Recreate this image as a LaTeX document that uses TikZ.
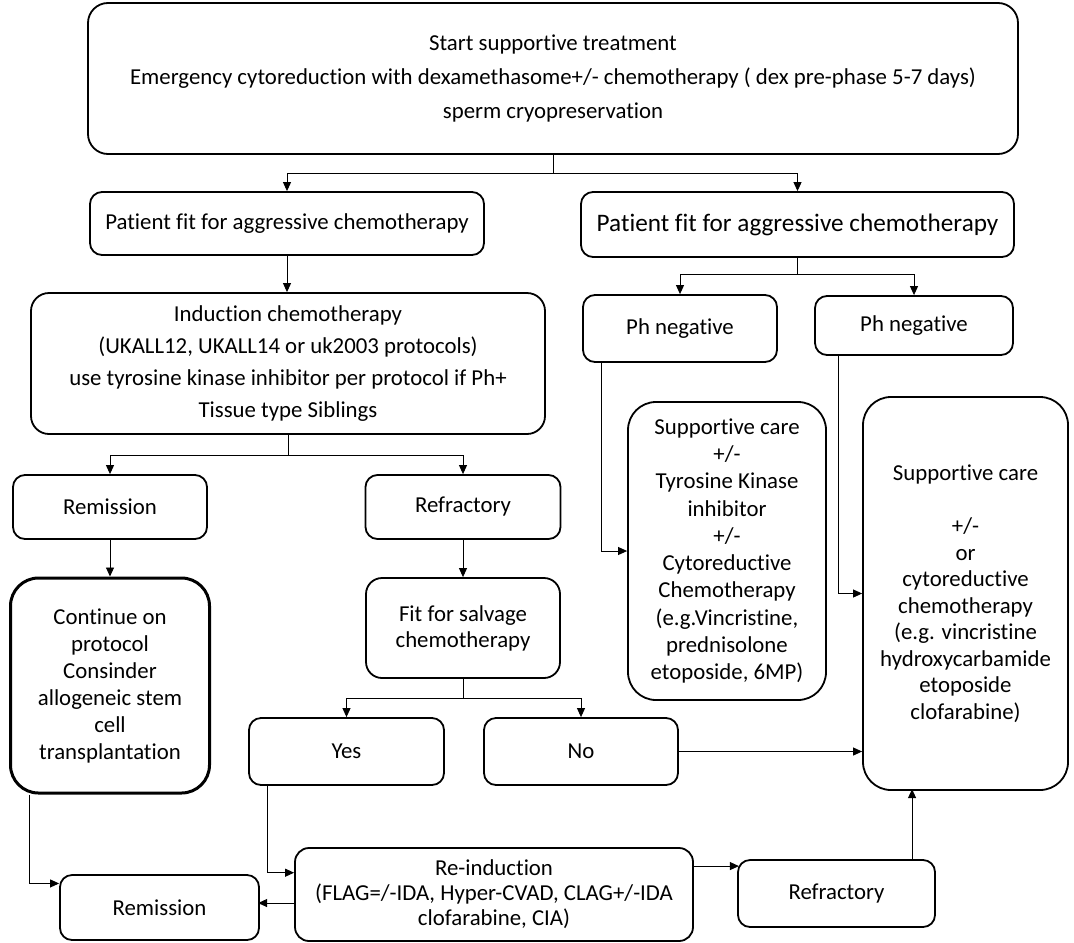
\documentclass[tikz,border=0pt]{standalone}
\usepackage{fontspec}
\setmainfont{Carlito}[Ligatures=NoCommon]
\usepackage{tikz}
\usetikzlibrary{arrows.meta, calc}

\begin{document}
\begin{tikzpicture}[
  x=0.5pt, y=-0.5pt,
  font=\fontsize{11.4}{13.5}\selectfont,
  box/.style={draw, line width=0.9pt, rounded corners=6pt, align=center, inner sep=0pt},
  bigbox/.style={box, rounded corners=14pt},
  conn/.style={draw, line width=0.45pt, -{Triangle[length=4.5pt, width=4pt]}}
]
\useasboundingbox (0,0) rectangle (1074,942);

% top box
\node[box, rounded corners=10pt, minimum width=465pt, minimum height=75.5pt,
  font=\fontsize{11.4}{17}\selectfont] (top) at (553,78.5)
  {Start supportive treatment\\Emergency cytoreduction with dexamethasome+/- chemotherapy ( dex pre-phase 5-7 days)\\sperm cryopreservation};

% second row
\node[box, minimum width=197pt, minimum height=31.5pt] (fitL) at (287,223.5) {Patient fit for aggressive chemotherapy};
\node[box, minimum width=216.5pt, minimum height=32.5pt, font=\fontsize{12.6}{15}\selectfont] (fitR) at (797.5,224.5) {Patient fit for aggressive chemotherapy};

% left branch
\node[box, rounded corners=9pt, minimum width=257pt, minimum height=70.5pt,
  font=\fontsize{11.4}{16}\selectfont] (induc) at (288,363.5)
  {Induction chemotherapy\\(UKALL12, UKALL14 or uk2003 protocols)\\use tyrosine kinase inhibitor per protocol if Ph+\\Tissue type Siblings};
\node[box, minimum width=97pt, minimum height=32pt] (remA) at (110,507) {Remission};
\node[box, minimum width=97.5pt, minimum height=32pt] (refrA) at (463,507) {Refractory};
\node[bigbox, line width=1.5pt, minimum width=99.5pt, minimum height=107.5pt] (cont) at (110,685.5)
  {Continue on\\protocol\\Consinder\\allogeneic stem\\cell\\transplantation};
\node[box, rounded corners=8pt, minimum width=97pt, minimum height=50pt, font=\fontsize{11.4}{13}\selectfont] (salv) at (463,628)
  {Fit for salvage\\chemotherapy};
\node[box, minimum width=97.5pt, minimum height=33.5pt] (yes) at (346.5,751.5) {Yes};
\node[box, minimum width=97pt, minimum height=33.5pt] (no) at (581,751.5) {No};

% right branch
\node[box, minimum width=97pt, minimum height=33.5pt] (ph1) at (680,328.5) {Ph negative};
\node[box, minimum width=99pt, minimum height=29.5pt] (ph2) at (914,325.5) {Ph negative};
\node[bigbox, minimum width=99pt, minimum height=149pt, font=\fontsize{11.4}{13.65}\selectfont] (mid) at (727,551)
  {Supportive care\\+/-\\Tyrosine Kinase\\inhibitor\\+/-\\Cytoreductive\\Chemotherapy\\(e.g.Vincristine,\\prednisolone\\etoposide, 6MP)};
\node[bigbox, minimum width=102.5pt, minimum height=196.5pt, font=\fontsize{11.4}{13.25}\selectfont] (big) at (965.5,593.5)
  {Supportive care\\[13.25pt]+/-\\or\\cytoreductive\\chemotherapy\\(e.g. vincristine\\hydroxycarbamide\\etoposide\\clofarabine)};

% bottom row
\node[box, minimum width=99.5pt, minimum height=32.5pt] (remB) at (159.5,907.5) {Remission};
\node[box, rounded corners=7pt, minimum width=199pt, minimum height=46.5pt, font=\fontsize{11.4}{12.5}\selectfont] (reind) at (494,894.5)
  {Re-induction\\(FLAG=/-IDA, Hyper-CVAD, CLAG+/-IDA\\clofarabine, CIA)};
\node[box, minimum width=98.5pt, minimum height=33.5pt] (refrB) at (836.5,893.5) {Refractory};

% connectors
\draw[conn] (top.south) -- ++(0,19) -| (fitL.north);
\draw[conn] (top.south) -- ++(0,19) -| (fitR.north);
\draw[conn] (fitL.south) -- (fitL.south |- induc.north);
\draw[conn] (fitR.south) -- ++(0,17) -| (ph1.north);
\draw[conn] (fitR.south) -- ++(0,17) -| (ph2.north);
\draw[conn] (induc.south) -- ++(0,21) -| (remA.north);
\draw[conn] (induc.south) -- ++(0,21) -| (refrA.north);
\draw[conn] (remA.south) -- (remA.south |- cont.north);
\draw[conn] (refrA.south) -- (salv.north);
\draw[conn] (salv.south) -- ++(0,20) -| (yes.north);
\draw[conn] (salv.south) -- ++(0,20) -| (no.north);
\draw[conn] ($(ph1.south west)!0.1!(ph1.south east)$) |- (mid.west);
\draw[conn] ($(ph2.south west)!0.12!(ph2.south east)$) |- (big.west);
\draw[conn] (no.east) -- (no.east -| big.west);
\draw[conn] ($(cont.south west)!0.1!(cont.south east)$) |- ($(remB.north west)!0.14!(remB.south west)$);
\draw[conn] ($(yes.south west)!0.1!(yes.south east)$) |- ($(reind.north west)!0.27!(reind.south west)$);
\draw[conn] ($(reind.north west)!0.59!(reind.south west)$) -- ++(-36,0);
\draw[conn] ($(reind.north east)!0.2!(reind.south east)$) -- ++(45,0);
\draw[conn] ($(refrB.north west)!0.88!(refrB.north east)$) -- ++(0,-70);

\end{tikzpicture}
\end{document}
